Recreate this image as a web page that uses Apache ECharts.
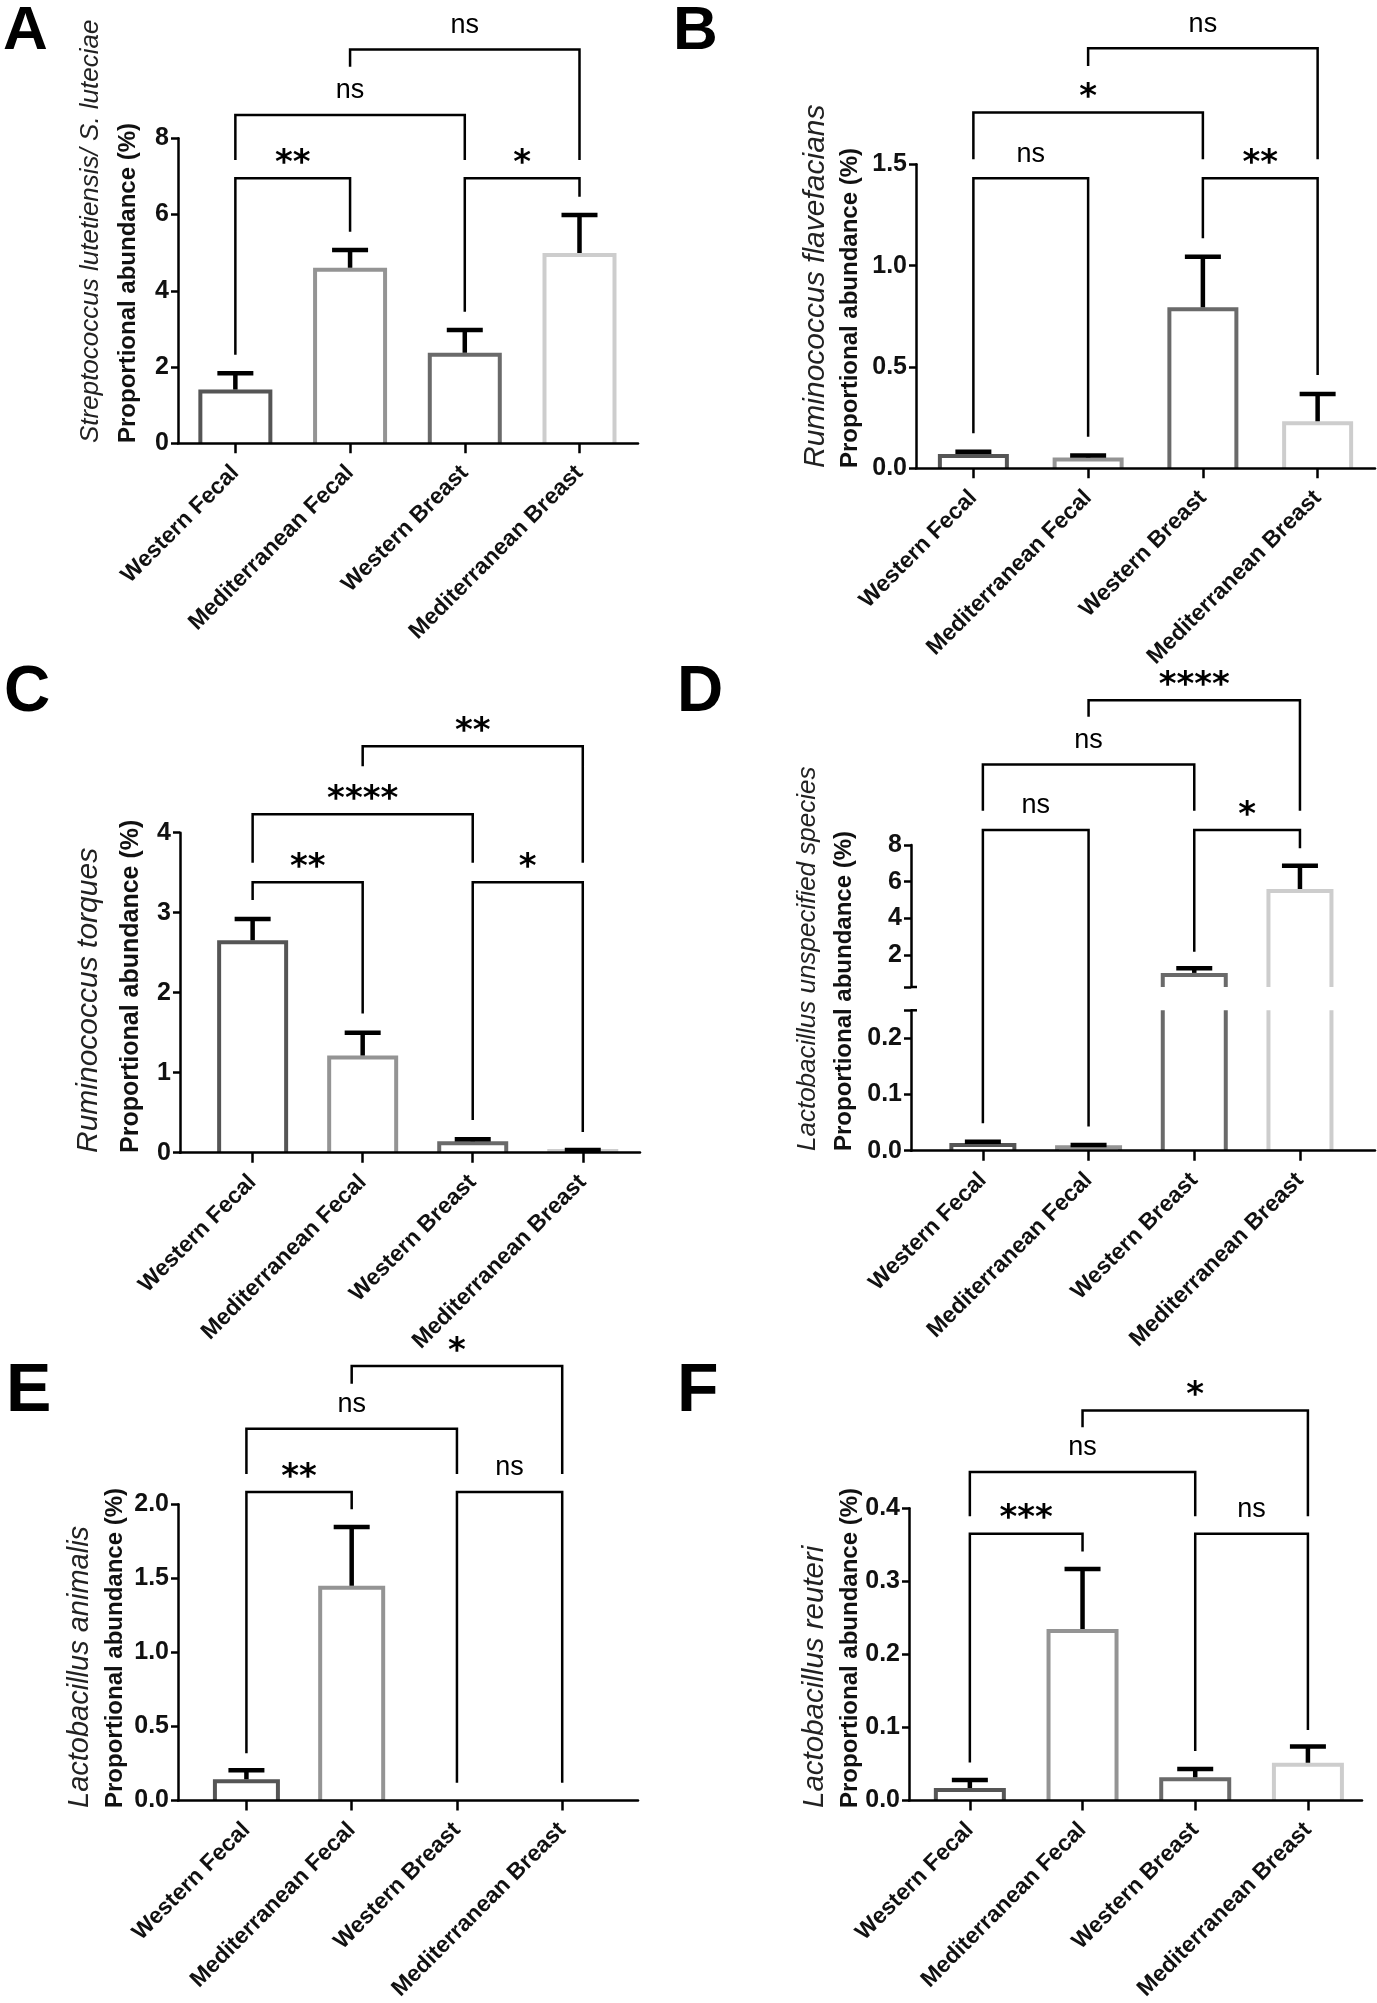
<!DOCTYPE html>
<html>
<head>
<meta charset="utf-8">
<script src="https://cdn.jsdelivr.net/npm/echarts@6/dist/echarts.min.js"></script>
<style>
html,body{margin:0;padding:0;background:#fff;}
#chart{width:1377px;height:2003px;}
</style>
</head>
<body>
<div id="chart"></div>
<script>
// ---------------- DATA ----------------
const categories = ['Western Fecal', 'Mediterranean Fecal', 'Western Breast', 'Mediterranean Breast'];

// mean and SEM (proportional abundance, %)
const meanA = [1.36, 4.55, 2.32, 4.94];
const semA  = [0.48, 0.52, 0.65, 1.05];
const meanB = [0.061, 0.044, 0.785, 0.222];
const semB  = [0.021, 0.019, 0.259, 0.145];
const meanC = [2.63, 1.19, 0.117, 0.022];
const semC  = [0.29, 0.31, 0.05, 0.012];
const meanD = [0.010, 0.006, 0.91, 5.49];
const semD  = [0.006, 0.004, 0.36, 1.38];
const meanE = [0.13, 1.436, 0, 0];
const semE  = [0.074, 0.41, 0, 0];
const meanF = [0.0142, 0.232, 0.0289, 0.0489];
const semF  = [0.0138, 0.085, 0.0141, 0.0251];

// y tick labels
const yTicksA = [0, 2, 4, 6, 8];
const yTicksB = [0, 0.5, 1, 1.5];
const yTicksC = [0, 1, 2, 3, 4];
const yTicksDUpper = [2, 4, 6, 8];
const yTicksDLower = [0, 0.1, 0.2];
const yTicksE = [0, 0.5, 1, 1.5, 2];
const yTicksF = [0, 0.1, 0.2, 0.3, 0.4];
const yBreakD = [0.25, 0.25]; // lower segment max, upper segment min

// significance brackets: [fromIdx, toIdx, topValue, leftLegEnd, rightLegEnd, label, legsOnLowerSegment]
const bracketsA = [[0,1,6.95,2.32,5.55,'**'],[2,3,6.95,3.45,6.47,'*'],[0,2,8.61,7.43,7.43,'ns'],[1,3,10.33,9.88,7.43,'ns']];
const bracketsB = [[0,1,1.431,0.173,0.156,'ns'],[2,3,1.431,1.135,0.46,'**'],[0,2,1.755,1.525,1.525,'*'],[1,3,2.072,1.985,1.525,'ns']];
const bracketsC = [[0,1,3.38,3.16,1.74,'**'],[2,3,3.38,0.41,0.26,'*'],[0,2,4.23,3.625,3.625,'****'],[1,3,5.08,4.83,3.625,'**']];
const bracketsD = [[0,1,8.82,0.0487,0.043,'ns',true],[2,3,8.82,2.18,7.82,'*'],[0,2,12.4,9.87,9.87,'ns'],[1,3,15.9,15.0,9.87,'****']];
const bracketsE = [[0,1,2.083,0.318,1.967,'**'],[2,3,2.083,0.12,0.12,'ns'],[0,2,2.511,2.204,2.204,'ns'],[1,3,2.934,2.814,2.204,'*']];
const bracketsF = [[0,1,0.3653,0.052,0.341,'***'],[2,3,0.3653,0.0676,0.0964,'ns'],[0,2,0.4498,0.389,0.389,'ns'],[1,3,0.534,0.511,0.389,'*']];

const speciesTitles = ['Streptococcus lutetiensis/ S. luteciae', 'Ruminococcus flavefacians', 'Ruminococcus torques',
  'Lactobacillus unspecified species', 'Lactobacillus animalis', 'Lactobacillus reuteri'];
const yTitle = 'Proportional abundance (%)';
const panelLetters = ['A', 'B', 'C', 'D', 'E', 'F'];

// ---------------- STYLE / LAYOUT ----------------
const barColors = ['#555555', '#949494', '#6a6a6a', '#cdcdcd'];
const FONT = '"Liberation Sans", Arial, sans-serif';
const chart = echarts.init(document.getElementById('chart'), null, {width: 1377, height: 2003});

const grids = [
  {left: 178, top: 138.3, width: 460, height: 305},   // A
  {left: 916, top: 164.3, width: 459, height: 304},   // B
  {left: 180, top: 832.7, width: 460, height: 320},   // C
  {left: 911, top: 845, width: 464, height: 142},     // D upper
  {left: 911, top: 1010.3, width: 464, height: 140.4},// D lower
  {left: 178, top: 1504.3, width: 460, height: 304},  // E
  {left: 909, top: 1508.3, width: 453, height: 300}   // F
];
const xRanges = [[-0.5, 3.51], [-0.5, 3.5], [-0.66, 3.52], [-0.68, 3.71], [-0.68, 3.71], [-0.65, 3.72], [-0.54, 3.48]];
const barW = [70, 67, 67, 63, 63, 63, 68];

function xAxisFor(gi, show) {
  return {
    type: 'value', gridIndex: gi, min: xRanges[gi][0], max: xRanges[gi][1], z: 3, show: show,
    axisLine: {show: true, onZero: false, lineStyle: {color: '#000', width: 2.5}},
    axisTick: {show: true, length: 10, customValues: [0, 1, 2, 3], lineStyle: {color: '#000', width: 2.5}},
    axisLabel: {show: true, customValues: [0, 1, 2, 3], formatter: v => categories[Math.round(v)] || '',
      rotate: 45, margin: 26, fontFamily: FONT, fontWeight: 'bold', fontSize: 23, color: '#111'},
    splitLine: {show: false}
  };
}
function yAxisFor(gi, min, max, labelVals, tickVals, dec) {
  return {
    type: 'value', gridIndex: gi, min: min, max: max, z: 3,
    axisLine: {show: true, onZero: false, lineStyle: {color: '#000', width: 2.5}},
    axisTick: {show: true, length: 7, customValues: tickVals, lineStyle: {color: '#000', width: 2.5}},
    axisLabel: {customValues: labelVals, formatter: v => Number(v).toFixed(dec), margin: 9,
      fontFamily: FONT, fontWeight: 'bold', fontSize: 25, color: '#111'},
    splitLine: {show: false}
  };
}

const xAxes = [xAxisFor(0, true), xAxisFor(1, true), xAxisFor(2, true), xAxisFor(3, false), xAxisFor(4, true), xAxisFor(5, true), xAxisFor(6, true)];
const yAxes = [
  yAxisFor(0, yTicksA[0], yTicksA[yTicksA.length - 1], yTicksA, yTicksA, 0),
  yAxisFor(1, yTicksB[0], yTicksB[yTicksB.length - 1], yTicksB, yTicksB, 1),
  yAxisFor(2, yTicksC[0], yTicksC[yTicksC.length - 1], yTicksC, yTicksC, 0),
  yAxisFor(3, yBreakD[1], yTicksDUpper[yTicksDUpper.length - 1], yTicksDUpper, [yBreakD[1]].concat(yTicksDUpper), 0),
  yAxisFor(4, yTicksDLower[0], yBreakD[0], yTicksDLower, yTicksDLower.concat([yBreakD[0]]), 1),
  yAxisFor(5, yTicksE[0], yTicksE[yTicksE.length - 1], yTicksE, yTicksE, 1),
  yAxisFor(6, yTicksF[0], yTicksF[yTicksF.length - 1], yTicksF, yTicksF, 1)
];

// bars as open-bottom outlines drawn through the axis scales
function barSeries(gi, means) {
  const bw = barW[gi];
  return {
    type: 'custom', xAxisIndex: gi, yAxisIndex: gi, clip: true, z: 2, silent: true,
    data: means.map((v, i) => [i, v]),
    renderItem: function (params, api) {
      const i = api.value(0), v = api.value(1);
      if (!v) return null;
      const base = api.coord([i, 0]);
      const top = api.coord([i, v]);
      const h = bw / 2;
      return {
        type: 'polyline',
        shape: {points: [[base[0] - h, base[1]], [top[0] - h, top[1]], [top[0] + h, top[1]], [base[0] + h, base[1]]]},
        style: {stroke: barColors[i], lineWidth: 4, fill: null, lineJoin: 'miter'}
      };
    }
  };
}
function errSeries(gi, means, sems) {
  return {
    type: 'custom', xAxisIndex: gi, yAxisIndex: gi, clip: true, z: 4, silent: true,
    data: means.map((v, i) => [i, v, sems[i]]),
    renderItem: function (params, api) {
      const i = api.value(0), m = api.value(1), s = api.value(2);
      if (!s) return null;
      const p0 = api.coord([i, m]);
      const p1 = api.coord([i, m + s]);
      return {
        type: 'group', children: [
          {type: 'line', shape: {x1: p0[0], y1: p0[1] - 2, x2: p1[0], y2: p1[1]}, style: {stroke: '#000', lineWidth: 4.5}},
          {type: 'line', shape: {x1: p1[0] - 18, y1: p1[1], x2: p1[0] + 18, y2: p1[1]}, style: {stroke: '#000', lineWidth: 4.5}}
        ]
      };
    }
  };
}
// short break marks on the right side of the D axis ends
function breakMarkSeries(gi, value) {
  return {
    type: 'custom', xAxisIndex: gi, yAxisIndex: gi, clip: false, z: 4, silent: true,
    data: [[xRanges[gi][0], value]],
    renderItem: function (params, api) {
      const p = api.coord([api.value(0), api.value(1)]);
      return {type: 'line', shape: {x1: p[0], y1: p[1], x2: p[0] + 6, y2: p[1]}, style: {stroke: '#000', lineWidth: 2.5}};
    }
  };
}
function bracketSeries(gi, list, lowerAxis) {
  return {
    type: 'custom', xAxisIndex: gi, yAxisIndex: gi, clip: false, z: 6, silent: true,
    data: list.map(b => [b[0], b[2], b[1], b[3], b[4]]),
    renderItem: function (params, api) {
      const b = list[params.dataIndex];
      const pt = api.coord([b[0], b[2]]);
      const pr = api.coord([b[1], b[2]]);
      let yl, yr;
      if (b[6] && lowerAxis != null) {
        yl = chart.convertToPixel({yAxisIndex: lowerAxis}, b[3]);
        yr = chart.convertToPixel({yAxisIndex: lowerAxis}, b[4]);
      } else {
        yl = api.coord([b[0], b[3]])[1];
        yr = api.coord([b[1], b[4]])[1];
      }
      const star = b[5].indexOf('*') >= 0;
      return {
        type: 'group', children: [
          {type: 'polyline', shape: {points: [[pt[0], yl], [pt[0], pt[1]], [pr[0], pt[1]], [pr[0], yr]]},
            style: {stroke: '#000', lineWidth: 2.5, fill: null}},
          {type: 'text', x: (pt[0] + pr[0]) / 2, y: pt[1] - (star ? 14 : 24),
            style: {text: b[5], fill: '#000',
              font: star ? 'bold 34px "DejaVu Sans", sans-serif' : '27px "Liberation Sans Narrow", "Liberation Sans", sans-serif',
              align: 'center', verticalAlign: 'middle', textAlign: 'center', textVerticalAlign: 'middle'}}
        ]
      };
    }
  };
}

const series = [
  barSeries(0, meanA), errSeries(0, meanA, semA), bracketSeries(0, bracketsA),
  barSeries(1, meanB), errSeries(1, meanB, semB), bracketSeries(1, bracketsB),
  barSeries(2, meanC), errSeries(2, meanC, semC), bracketSeries(2, bracketsC),
  barSeries(3, meanD), errSeries(3, meanD, semD), bracketSeries(3, bracketsD, 4), breakMarkSeries(3, yBreakD[1]),
  barSeries(4, meanD), errSeries(4, meanD, semD), breakMarkSeries(4, yBreakD[0]),
  barSeries(5, meanE), errSeries(5, meanE, semE), bracketSeries(5, bracketsE),
  barSeries(6, meanF), errSeries(6, meanF, semF), bracketSeries(6, bracketsF)
];

// axis titles and panel letters: [italicX, boldX, bottomY, italicSize, boldSize]
const titlePos = [[91, 128, 443, 26, 24], [816, 850, 468, 30, 24], [89, 131, 1153, 30, 25],
  [808, 844, 1151, 26, 24], [80, 115, 1808, 29, 24], [815, 850, 1808, 29.5, 24]];
const letterPos = [[3, 31.5, 62], [673, 31.5, 62], [4, 693, 64], [677, 693, 64], [6, 1392, 68], [677, 1392, 68]];
const graphics = [];
titlePos.forEach((p, k) => {
  graphics.push({type: 'text', x: p[0], y: p[2], rotation: Math.PI / 2, silent: true,
    style: {text: speciesTitles[k], font: 'italic ' + p[3] + 'px ' + FONT, fill: '#222',
      align: 'left', verticalAlign: 'middle', textAlign: 'left', textVerticalAlign: 'middle'}});
  graphics.push({type: 'text', x: p[1], y: p[2], rotation: Math.PI / 2, silent: true,
    style: {text: yTitle, font: 'bold ' + p[4] + 'px ' + FONT, fill: '#111',
      align: 'left', verticalAlign: 'middle', textAlign: 'left', textVerticalAlign: 'middle'}});
});
letterPos.forEach((p, k) => {
  graphics.push({type: 'text', x: p[0], y: p[1], silent: true,
    style: {text: panelLetters[k], font: 'bold ' + p[2] + 'px ' + FONT, fill: '#000',
      align: 'left', verticalAlign: 'middle', textAlign: 'left', textVerticalAlign: 'middle'}});
});

chart.setOption({
  backgroundColor: '#fff',
  animation: false,
  grid: grids,
  xAxis: xAxes,
  yAxis: yAxes,
  series: series,
  graphic: graphics
});
</script>
</body>
</html>
